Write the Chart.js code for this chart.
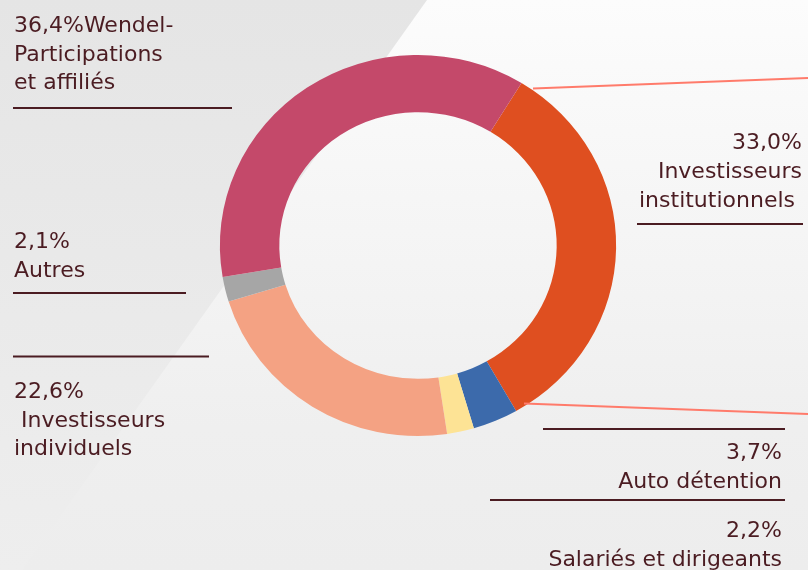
<!DOCTYPE html>
<html>
<head>
<meta charset="utf-8">
<script src="https://cdn.jsdelivr.net/npm/chart.js@4.4.1/dist/chart.umd.min.js"></script>
<style>
  html, body { margin: 0; padding: 0; background: #ececec; }
  #wrap { width: 808px; height: 570px; position: relative; }
</style>
</head>
<body>
<div id="wrap"><canvas id="actionnariat" width="808" height="570"></canvas></div>
<script>
// repartition du capital, clockwise starting at the orange slice
const labels = [
  "Investisseurs institutionnels",
  "Auto détention",
  "Salariés et dirigeants",
  "Investisseurs individuels",
  "Autres",
  "Wendel-Participations et affiliés"
];
const shares = [33.0, 3.7, 2.2, 22.6, 2.1, 36.4];
const colors = ["#df4f20", "#3c6aab", "#fde395", "#f4a283", "#a6a6a6", "#c4496a"];

// text lines shown next to the ring (first line is the percentage)
const labelLines = [
  ["Investisseurs", "institutionnels "],
  ["Auto détention"],
  ["Salariés et dirigeants"],
  [" Investisseurs", "individuels"],
  ["Autres"],
  ["Participations", "et affiliés"]
];

const pct = (v) => v.toFixed(1).replace(".", ",") + "%";

const TEXT = "#4b1c22";
const FONT = "22px 'DejaVu Sans'";

const backgroundPlugin = {
  id: "background",
  beforeDraw(chart) {
    const ctx = chart.ctx;
    ctx.save();
    let g = ctx.createLinearGradient(0, 0, 0, 570);
    g.addColorStop(0, "#e5e5e5");
    g.addColorStop(1, "#eeeeee");
    ctx.fillStyle = g;
    ctx.fillRect(0, 0, 808, 570);
    // lighter diagonal panel
    g = ctx.createLinearGradient(0, 0, 0, 570);
    g.addColorStop(0, "#fcfcfc");
    g.addColorStop(0.75, "#efefef");
    g.addColorStop(1, "#ededed");
    ctx.fillStyle = g;
    ctx.beginPath();
    ctx.moveTo(427, 0);
    ctx.lineTo(808, 0);
    ctx.lineTo(808, 570);
    ctx.lineTo(22, 570);
    ctx.closePath();
    ctx.fill();
    ctx.restore();
  }
};

// the ring in the original is a bit wider than tall
const stretchPlugin = {
  id: "stretch",
  beforeDatasetsDraw(chart) {
    const ctx = chart.ctx;
    const cx = (chart.chartArea.left + chart.chartArea.right) / 2;
    ctx.save();
    ctx.translate(cx, 0);
    ctx.scale(1.04, 1);
    ctx.translate(-cx, 0);
  },
  afterDatasetsDraw(chart) {
    chart.ctx.restore();
  }
};

function line(ctx, x1, y1, x2, y2, color, w) {
  ctx.strokeStyle = color;
  ctx.lineWidth = w;
  ctx.beginPath();
  ctx.moveTo(x1, y1);
  ctx.lineTo(x2, y2);
  ctx.stroke();
}

function block(ctx, rows, x, y, align) {
  ctx.textAlign = align;
  rows.forEach((t, i) => ctx.fillText(t, x, y + i * 28.5));
}

const annotationPlugin = {
  id: "annotations",
  afterDraw(chart) {
    const ctx = chart.ctx;
    ctx.save();
    ctx.font = FONT;
    ctx.fillStyle = TEXT;
    ctx.textBaseline = "alphabetic";

    // left side
    block(ctx, [pct(shares[5]) + "Wendel-"].concat(labelLines[5]), 14, 32, "left");
    block(ctx, [pct(shares[4])].concat(labelLines[4]), 14, 248, "left");
    block(ctx, [pct(shares[3])].concat(labelLines[3]), 14, 398, "left");

    // right side
    block(ctx, [pct(shares[0]), labelLines[0][0]], 802, 149, "right");
    ctx.textAlign = "right";
    ctx.fillText(labelLines[0][1], 802, 206.5);
    block(ctx, [pct(shares[1])].concat(labelLines[1]), 782, 459, "right");
    block(ctx, [pct(shares[2])].concat(labelLines[2]), 782, 537, "right");

    // rules
    line(ctx, 13, 108, 232, 108, TEXT, 2);
    line(ctx, 13, 293, 186, 293, TEXT, 2);
    line(ctx, 13, 356.5, 209, 356.5, TEXT, 2);
    line(ctx, 637, 224, 803, 224, TEXT, 2);
    line(ctx, 543, 429, 785, 429, TEXT, 2);
    line(ctx, 490, 500, 785, 500, TEXT, 2);

    // leader lines
    line(ctx, 533, 88.5, 808, 78, "#ff7b6b", 2);
    line(ctx, 524, 403.5, 808, 414, "#ff7b6b", 2);
    ctx.restore();
  }
};

new Chart(document.getElementById("actionnariat"), {
  type: "doughnut",
  data: {
    labels: labels,
    datasets: [
      {
        data: shares,
        backgroundColor: colors,
        borderWidth: 0,
        hoverOffset: 0
      }
    ]
  },
  options: {
    responsive: false,
    animation: false,
    rotation: 31.5,
    cutout: "70%",
    layout: {
      padding: { top: 55, bottom: 134, left: 227.5, right: 199.5 }
    },
    plugins: {
      legend: { display: false },
      tooltip: { enabled: false }
    },
    events: []
  },
  plugins: [backgroundPlugin, stretchPlugin, annotationPlugin]
});
</script>
</body>
</html>
